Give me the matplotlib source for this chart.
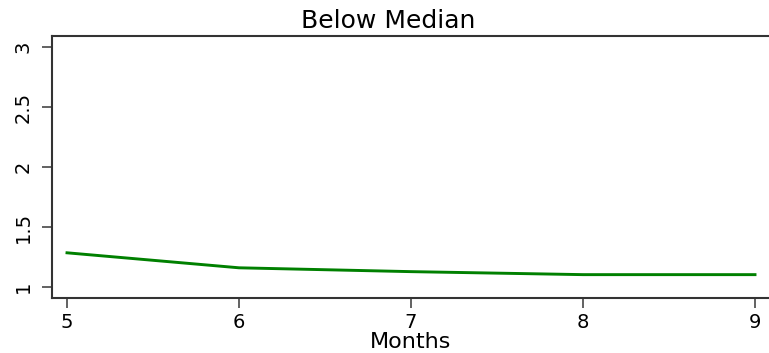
import numpy as np
import matplotlib.pyplot as plt

plt.rcParams['font.family'] = ['DejaVu Sans']

# Below-median group, estimate by month
months = [5, 6, 7, 8, 9]
estimate = [1.285, 1.16, 1.128, 1.103, 1.103]
yticks = [1, 1.5, 2, 2.5, 3]
ytick_labels = ['1', '1.5', '2', '2.5', '3']

fig = plt.figure(figsize=(7.69, 3.53), dpi=100)
ax = fig.add_axes([52 / 769, 55 / 353, 1 - 52 / 769, 262 / 353])

ax.plot(months, estimate, color='#008000', linewidth=2.1)

ax.set_xlim(5 - 15 / 172, 9 + 14 / 172)
ax.set_ylim(1 - 11 / 120, 3 + 11 / 120)
ax.set_xticks(months)
ax.set_yticks(yticks)
ax.set_yticklabels(ytick_labels, rotation=90, va='center')

for side in ['left', 'bottom', 'top']:
    ax.spines[side].set_color('#333333')
    ax.spines[side].set_linewidth(1.5)
ax.spines['right'].set_visible(False)
ax.tick_params(length=7, width=1.3, color='#555555', labelsize=14, pad=4)
ax.tick_params(axis='y', pad=7)

ax.set_xlabel('Months', fontsize=16, labelpad=0)
fig.text(388 / 769, 1 - 28 / 353, 'Below Median', ha='center', va='baseline',
         fontsize=18)

fig.savefig('out.png', dpi=100)
